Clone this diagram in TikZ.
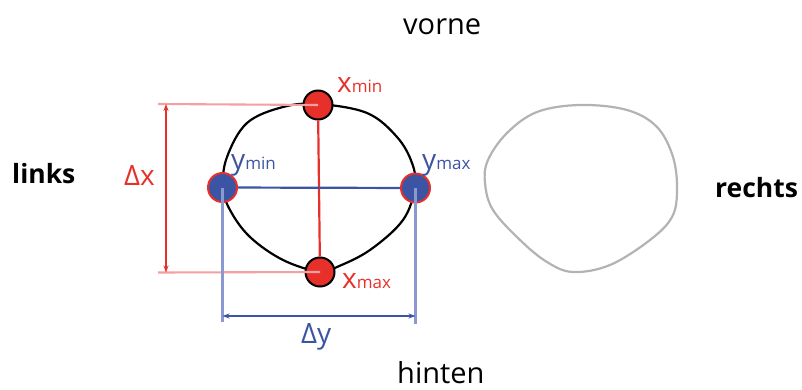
\documentclass[tikz,border=0pt]{standalone}
\usepackage{fontspec}
\setmainfont{Open Sans}
\usetikzlibrary{arrows.meta}
\definecolor{cred}{RGB}{232,48,43}
\definecolor{cblue}{RGB}{59,84,163}
\definecolor{lred}{RGB}{245,160,160}
\definecolor{lblue}{RGB}{140,152,208}
\definecolor{cgray}{RGB}{180,178,180}
\tikzset{
  bigtxt/.style={inner sep=0, anchor=base west, font=\fontsize{29}{32}\selectfont},
  sidetxt/.style={inner sep=0, anchor=base west, font=\fontsize{26.5}{30}\selectfont\bfseries},
  lbl/.style={inner sep=0, anchor=base west, font=\fontsize{28}{30}\selectfont},
  redpt/.style={circle, fill=cred, draw=black, line width=2pt, minimum size=29pt, inner sep=0},
  bluept/.style={circle, fill=cblue, draw=cred, line width=2pt, minimum size=29pt, inner sep=0},
  tip/.style={{Stealth[length=7pt,width=5pt]}-{Stealth[length=7pt,width=5pt]}},
  mainline/.style={line width=2.2pt},
  helper/.style={line width=2.1pt}
}
\newcommand{\smalltxt}[1]{{\fontsize{17}{20}\selectfont #1}}
\begin{document}
\begin{tikzpicture}[x=1pt,y=-1pt]
\useasboundingbox (0,0) rectangle (802,390);
% black outline
\draw[black, mainline] plot[smooth cycle, tension=0.6] coordinates {
 (318,104) (367,113) (397,137) (412,163) (415,187) (403,220) (370,250) (337,267)
 (320,272) (283,260) (250,237) (230,210) (223,187) (227,157) (247,123) (283,107)};
% gray outline
\draw[cgray, mainline] plot[smooth cycle, tension=0.6] coordinates {
 (580,105) (627,110) (657,127) (673,157) (677,190) (672,217) (650,240) (610,265)
 (573,272) (547,262) (520,240) (493,210) (485,183) (488,160) (507,133) (537,112)};
% points
\node[redpt] (xmin) at (318,105) {};
\node[redpt] (xmax) at (320,272) {};
\node[bluept] (ymin) at (222.5,187.5) {};
\node[bluept] (ymax) at (415.5,188) {};
% connections
\draw[cred, mainline] (xmin) -- (xmax);
\draw[cblue, mainline] (ymin) -- (ymax);
% dimension helpers
\coordinate (dxt) at (158,104);
\coordinate (dxb) at (158,272.5);
\coordinate (at) at (166,104);
\coordinate (ab) at (166,272.5);
\draw[lred, helper] (dxt) -- (xmin.center);
\draw[lred, helper] (dxb) -- (xmax.center);
\draw[cred, mainline, tip] (at) -- (ab);
\coordinate (dyl) at (222.5,322);
\coordinate (dyr) at (415.5,324);
\coordinate (bl) at (222.5,316);
\coordinate (br) at (415.5,316);
\draw[lblue, helper] (ymin.center) -- (dyl);
\draw[lblue, helper] (ymax.center) -- (dyr);
\draw[cblue, mainline, tip] (bl) -- (br);
% labels
\node[lbl, text=cred] (lxmin) at (337,93) {x\smalltxt{min}};
\node[lbl, text=cred] (lxmax) at (342,288) {x\smalltxt{max}};
\node[lbl, text=cblue] (lymin) at (231,170) {y\smalltxt{min}};
\node[lbl, text=cblue] (lymax) at (422,170) {y\smalltxt{max}};
\node[lbl, text=cred] (ldx) at (124,185) {Δx};
\node[lbl, text=cblue] (ldy) at (301,343) {Δy};
% directions
\node[bigtxt] (vorne) at (403,35) {vorne};
\node[bigtxt] (hinten) at (397,383.5) {hinten};
\node[sidetxt] (links) at (12,183) {links};
\node[sidetxt] (rechts) at (715,197) {rechts};
\end{tikzpicture}
\end{document}
